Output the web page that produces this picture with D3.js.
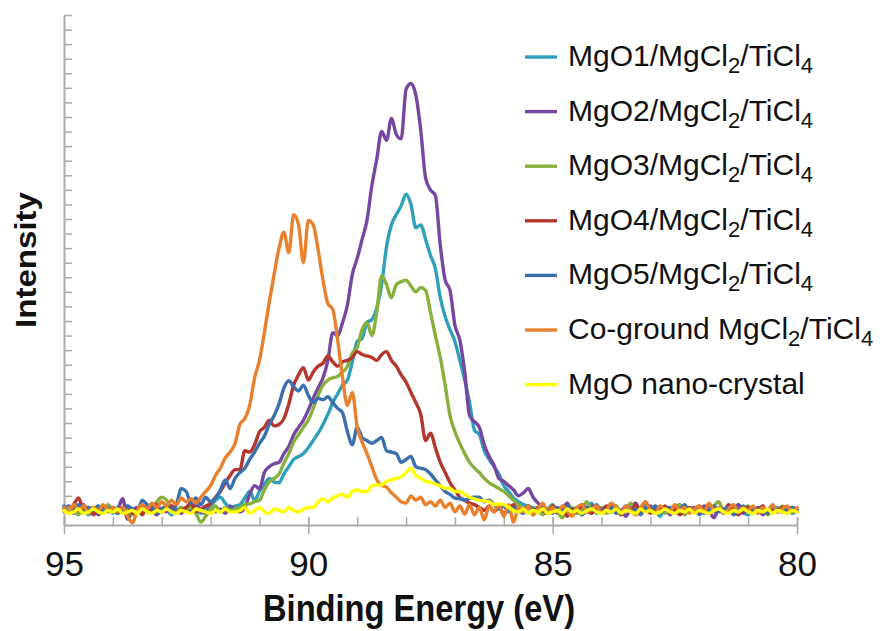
<!DOCTYPE html>
<html>
<head>
<meta charset="utf-8">
<script src="https://cdn.jsdelivr.net/npm/d3@7"></script>
<style>
  body { margin: 0; background: #fff; }
  text { font-family: "Liberation Sans", Arial, sans-serif; fill: #111; }
</style>
</head>
<body>
<svg id="chart" width="884" height="631"></svg>
<script>
// Binding energy grid (eV), 95 → 80 in 0.1 eV steps
const bindingEnergy = d3.range(151).map(i => +(95 - i * 0.1).toFixed(1));

// Intensity (a.u.) per sample, rows of ten points
const mgo1 = [
  1.2,0.8,1.3,0.9,1.1,0.7,1.0,1.3,0.9,1.1,
  0.8,1.2,1.0,0.7,1.1,0.9,1.3,1.0,0.8,1.2,
  0.9,1.1,0.7,1.0,1.2,0.9,1.3,1.0,0.8,1.1,
  1.3,1.7,1.9,1.5,1.2,1.3,1.4,1.85,2.3,1.7,
  2.3,2.8,3.2,2.95,2.9,3.5,4.0,4.5,4.7,4.9,
  5.3,5.8,6.3,6.9,7.6,8.4,9.0,9.6,9.95,11.2,
  12.6,12.8,13.9,14.1,14.9,16.5,19.1,20.6,21.3,21.9,
  22.7,22.0,20.4,20.6,19.6,18.5,17.6,15.6,14.3,13.4,
  12.6,11.3,9.95,8.4,6.5,6.2,5.1,4.5,4.0,3.5,
  2.7,2.3,1.85,1.6,1.4,1.3,1.0,1.2,0.8,1.1,
  1.4,0.9,1.0,1.3,0.7,1.1,0.9,1.2,1.5,0.8,
  1.0,1.2,0.9,1.3,0.7,1.0,1.2,0.8,1.1,1.4,
  0.9,1.0,0.6,1.2,1.0,0.8,1.3,1.1,0.9,1.2,
  0.7,1.0,1.3,0.9,1.1,0.8,1.2,1.0,1.4,0.9,
  0.7,1.1,1.0,1.3,0.8,1.0,1.2,0.9,1.1,0.8,
  1.0
];
const mgo2 = [
  1.0,1.3,0.8,1.1,1.4,0.9,1.2,0.7,1.0,1.3,
  0.9,1.1,1.8,0.4,1.0,1.2,0.8,1.3,1.0,0.7,
  1.1,0.9,1.3,1.0,0.8,1.2,0.9,1.4,1.0,0.8,
  1.2,0.9,1.1,0.8,1.3,1.0,0.9,1.2,2.1,2.7,
  2.5,3.6,4.0,4.2,4.3,4.9,5.4,6.2,6.7,7.2,
  7.9,8.7,9.4,10.1,11.3,13.2,13.0,13.9,15.1,17.2,
  18.3,19.6,20.9,23.3,25.1,27.0,26.4,27.9,26.8,26.5,
  29.9,30.3,29.5,27.1,23.8,23.0,22.6,19.2,16.8,16.1,
  13.7,12.7,10.5,7.5,7.1,6.7,5.5,4.7,4.1,3.2,
  3.0,2.7,2.4,2.0,2.2,2.5,1.9,1.5,1.2,1.0,
  1.3,0.8,1.1,1.5,0.9,1.2,0.7,1.0,1.3,1.1,
  0.8,1.2,1.4,0.9,1.0,0.6,1.2,1.5,0.9,1.1,
  1.3,0.8,1.0,1.2,0.7,1.1,1.4,0.9,1.0,1.2,
  0.8,1.3,1.0,0.5,1.1,0.9,1.2,1.0,1.4,0.8,
  1.1,0.9,1.2,0.7,1.0,1.3,0.9,1.1,0.8,1.2,
  1.0
];
const mgo3 = [
  0.9,1.2,1.0,0.7,1.3,1.1,0.8,1.2,0.9,1.4,
  1.0,0.8,1.2,1.1,0.7,1.0,1.3,0.9,1.2,1.6,
  1.9,1.7,1.1,0.9,1.2,1.0,1.3,0.8,0.2,0.6,
  1.1,1.3,0.9,1.2,1.0,1.1,1.2,1.4,1.45,1.6,
  1.7,2.4,2.95,3.2,3.5,4.25,4.9,5.7,6.2,6.7,
  7.2,8.0,8.9,9.6,9.95,10.1,10.2,10.5,10.9,11.8,
  12.2,13.4,13.9,13.0,14.6,17.1,16.5,15.6,16.5,16.7,
  16.8,16.4,16.0,16.3,16.1,14.6,13.0,11.5,9.6,7.5,
  6.4,5.6,4.9,4.3,3.9,3.6,3.2,2.9,2.7,2.5,
  2.3,2.0,1.7,1.4,1.1,0.8,1.2,1.0,0.7,1.1,
  1.3,0.9,0.5,1.0,1.2,0.8,1.1,1.6,0.9,1.0,
  1.2,0.8,1.0,1.3,0.9,1.1,1.5,0.8,1.0,1.2,
  0.9,1.3,1.0,0.8,1.2,1.0,1.4,0.7,1.1,0.9,
  1.2,1.0,0.8,1.3,1.6,0.9,1.0,1.2,0.8,1.1,
  1.3,0.9,1.0,1.2,0.7,1.1,0.9,1.3,1.0,1.2,
  0.9
];
const mgo4 = [
  1.1,0.8,1.4,1.85,1.0,1.2,0.7,1.1,1.3,0.9,
  1.2,0.9,1.0,1.3,0.8,1.1,0.7,1.2,1.0,1.4,
  0.9,1.1,1.3,0.8,1.0,1.2,1.5,0.9,1.1,1.3,
  1.5,1.9,2.3,2.9,3.4,3.8,3.8,5.1,5.0,5.5,
  6.4,6.7,7.2,6.8,6.9,7.3,8.3,9.6,10.3,10.8,
  9.95,10.5,10.9,11.1,11.6,11.2,10.9,11.2,11.3,11.5,
  11.9,11.7,11.6,11.5,11.3,11.7,11.9,11.3,10.9,10.3,
  9.8,9.1,8.4,7.6,5.8,6.3,5.3,4.3,3.6,2.9,
  2.4,1.9,1.7,1.5,1.4,1.2,1.0,1.3,0.9,1.2,
  0.8,1.1,1.4,0.9,1.0,1.3,0.7,1.2,1.0,0.8,
  1.3,1.0,1.2,0.6,1.1,0.9,1.4,1.0,0.8,1.2,
  1.0,1.3,0.9,1.1,0.7,1.2,1.0,1.4,0.9,1.1,
  0.8,1.2,1.0,1.3,0.9,1.1,0.7,1.0,1.2,0.9,
  1.3,1.0,0.8,1.2,1.1,0.9,1.4,1.0,0.7,1.1,
  1.2,0.9,1.0,1.3,0.8,1.1,1.0,1.2,0.9,1.1,
  1.0
];
const mgo5 = [
  1.3,0.9,1.1,1.4,0.8,1.2,1.0,1.3,0.9,1.1,
  1.2,0.8,1.0,1.3,1.1,0.9,1.7,1.4,1.2,0.8,
  1.1,1.3,1.0,1.4,2.5,2.3,1.5,1.85,1.4,1.9,
  1.6,1.85,2.4,3.1,2.5,3.2,3.6,3.9,4.5,5.0,
  5.6,6.1,6.9,7.5,8.3,9.4,9.9,9.5,9.2,9.6,
  8.9,8.4,8.7,8.6,8.8,8.4,8.0,7.7,6.4,5.5,
  6.7,6.0,5.8,5.6,5.8,6.0,5.1,5.0,4.9,4.3,
  4.5,4.7,4.0,3.9,3.8,3.5,3.1,2.7,2.3,2.1,
  1.85,1.8,1.7,1.85,1.9,1.9,1.6,1.7,1.4,1.1,
  1.3,0.9,1.2,1.0,0.8,1.3,1.1,0.9,1.2,1.0,
  0.8,1.2,1.0,1.3,0.9,1.1,0.7,1.2,1.0,1.4,
  0.9,1.1,1.2,0.8,1.0,1.3,0.9,1.1,0.7,1.2,
  1.0,1.3,0.9,1.1,1.2,0.8,1.0,1.4,0.9,1.1,
  1.2,0.8,1.0,1.3,0.9,1.1,1.2,0.7,1.0,1.3,
  0.9,1.1,1.0,1.2,0.8,1.3,1.0,0.9,1.1,1.2,
  1.0
];
const coGround = [
  1.2,0.9,1.4,1.0,1.3,0.8,1.2,1.0,1.4,1.0,
  1.2,0.9,1.2,0.6,0.15,1.0,1.4,1.1,1.5,1.2,
  1.6,1.3,1.7,1.4,1.85,1.6,1.8,1.5,1.9,2.3,
  2.7,3.4,3.9,4.6,5.0,5.6,6.9,7.3,8.2,10.1,
  11.3,13.2,15.3,17.2,19.0,20.1,18.7,21.3,20.6,18.0,
  20.9,20.6,18.9,16.8,15.2,14.8,12.7,10.1,8.2,9.1,
  6.7,5.7,4.9,4.0,3.1,2.7,2.6,2.2,1.9,1.6,
  1.5,2.0,1.7,1.9,1.4,1.6,1.3,1.7,1.2,1.5,
  0.9,1.3,0.75,1.4,0.7,1.2,0.35,1.3,0.9,1.4,
  0.6,1.4,0.2,1.2,0.9,1.3,0.7,1.1,1.5,0.8,
  1.2,0.9,1.3,1.0,0.6,1.2,1.4,0.9,1.1,1.3,
  0.8,1.0,1.5,1.2,0.9,1.3,1.0,0.7,1.2,1.6,
  1.0,0.8,1.3,1.1,0.9,1.4,1.0,1.2,0.8,1.1,
  1.3,0.9,1.5,1.0,1.2,0.8,1.1,1.4,0.9,1.2,
  1.0,1.3,0.8,1.2,1.0,1.4,0.9,1.1,1.3,0.9,
  1.2
];
const mgoNano = [
  1.0,0.8,0.9,1.1,0.8,0.9,1.1,0.9,0.8,1.0,
  0.9,1.1,0.8,0.9,1.0,0.8,1.1,0.9,0.8,1.0,
  0.9,1.1,0.9,0.8,1.0,0.9,0.8,1.1,1.0,0.9,
  0.8,1.0,0.9,1.1,0.9,0.9,1.0,1.2,0.8,1.0,
  1.2,0.9,0.8,1.1,1.0,0.9,1.2,1.0,0.9,1.1,
  1.2,1.2,1.6,1.8,1.6,1.85,2.0,2.1,1.9,2.3,
  2.4,2.3,2.3,2.7,2.75,2.75,3.0,3.1,3.2,3.3,
  3.6,3.9,3.4,3.2,3.0,2.95,2.8,2.7,2.5,2.5,
  2.3,2.3,2.1,1.9,1.8,1.7,1.65,1.6,1.4,1.45,
  1.4,1.2,1.0,0.9,1.1,0.8,1.0,0.9,1.1,0.8,
  0.9,1.0,0.8,1.1,0.9,1.0,0.8,1.0,1.1,0.9,
  0.8,1.0,0.9,1.1,0.8,1.0,0.9,0.8,1.1,0.9,
  1.0,0.8,0.9,1.1,0.9,0.8,1.0,0.9,1.1,0.8,
  1.0,0.9,0.8,1.0,1.1,0.9,0.8,1.0,0.9,1.1,
  0.9,0.8,1.0,0.9,1.1,0.8,1.0,0.9,0.8,1.0,
  0.9
];

// "_n" marks a subscript digit
const seriesLabels = [
  "MgO1/MgCl_2/TiCl_4",
  "MgO2/MgCl_2/TiCl_4",
  "MgO3/MgCl_2/TiCl_4",
  "MgO4/MgCl_2/TiCl_4",
  "MgO5/MgCl_2/TiCl_4",
  "Co-ground MgCl_2/TiCl_4",
  "MgO nano-crystal"
];
const seriesColors = ["#2f9fba", "#7647a0", "#87b13d", "#b3372f", "#3a6fb0", "#e8802c", "#ffff00"];
const seriesValues = [mgo1, mgo2, mgo3, mgo4, mgo5, coGround, mgoNano];

const majorTicks = [95, 90, 85, 80];
const minorTicks = d3.range(80, 96, 1);
const intensityTicks = d3.range(0, 36, 1);

const svg = d3.select("#chart");
const x = d3.scaleLinear().domain([95, 80]).range([64, 797]);
const y = d3.scaleLinear().domain([0, 35]).range([525, 15]);
const axisColor = "#ababab";

// y axis: line with inward ticks, no labels
const gy = svg.append("g").attr("transform", `translate(${x(95)},0)`)
  .call(d3.axisLeft(y).tickValues(intensityTicks).tickSize(-8).tickSizeOuter(0).tickFormat(""));
gy.select(".domain").attr("stroke", axisColor).attr("stroke-width", 2);
gy.selectAll(".tick line").attr("stroke", axisColor).attr("stroke-width", 1.5);
gy.selectAll(".tick text").remove();

// x axis: minor ticks point up, major ticks cross the line
const gxMinor = svg.append("g").attr("transform", `translate(0,${y(0)})`)
  .call(d3.axisBottom(x).tickValues(minorTicks).tickSize(-8).tickSizeOuter(0).tickFormat(""));
gxMinor.select(".domain").attr("stroke", axisColor).attr("stroke-width", 2);
gxMinor.selectAll(".tick line").attr("stroke", axisColor).attr("stroke-width", 1.5);
gxMinor.selectAll(".tick text").remove();

const gxMajor = svg.append("g").attr("transform", `translate(0,${y(0)})`)
  .call(d3.axisBottom(x).tickValues(majorTicks).tickSize(9).tickSizeOuter(0).tickFormat(d3.format("d")));
gxMajor.select(".domain").remove();
gxMajor.selectAll(".tick line").attr("y1", -8).attr("stroke", axisColor).attr("stroke-width", 1.5);
gxMajor.selectAll(".tick text")
  .attr("y", 51).attr("dy", 0)
  .style("font-family", "'Liberation Sans', Arial, sans-serif")
  .style("font-size", "35px").attr("fill", "#111");

// axis titles
svg.append("text")
  .attr("x", 419).attr("y", 621)
  .attr("text-anchor", "middle")
  .attr("textLength", 312).attr("lengthAdjust", "spacingAndGlyphs")
  .style("font-size", "37px").style("font-weight", "bold")
  .text("Binding Energy (eV)");

svg.append("text")
  .attr("transform", "translate(36,260) rotate(-90)")
  .attr("text-anchor", "middle")
  .attr("textLength", 136).attr("lengthAdjust", "spacingAndGlyphs")
  .style("font-size", "30px").style("font-weight", "bold")
  .text("Intensity");

// spectra
const line = d3.line()
  .x((d, i) => x(bindingEnergy[i]))
  .y(d => y(d))
  .curve(d3.curveMonotoneX);

svg.append("g").selectAll("path")
  .data(seriesValues)
  .join("path")
  .attr("d", line)
  .attr("fill", "none")
  .attr("stroke", (d, i) => seriesColors[i])
  .attr("stroke-width", 3.4)
  .attr("stroke-linejoin", "round")
  .attr("stroke-linecap", "round");

// legend
const legend = svg.append("g");
const rowY = i => 57 + i * 54.6;
seriesLabels.forEach((label, i) => {
  legend.append("line")
    .attr("x1", 525).attr("x2", 557)
    .attr("y1", rowY(i)).attr("y2", rowY(i))
    .attr("stroke", seriesColors[i]).attr("stroke-width", 3.4);
  const t = legend.append("text")
    .attr("x", 568).attr("y", rowY(i) + 9)
    .style("font-size", "30px");
  let shifted = false;
  label.split(/(_\d)/).filter(s => s.length).forEach(part => {
    if (part.startsWith("_")) {
      t.append("tspan").attr("dy", 7).style("font-size", "22px").text(part.slice(1));
      shifted = true;
    } else {
      const sp = t.append("tspan").text(part);
      if (shifted) { sp.attr("dy", -7); shifted = false; }
    }
  });
});
</script>
</body>
</html>
